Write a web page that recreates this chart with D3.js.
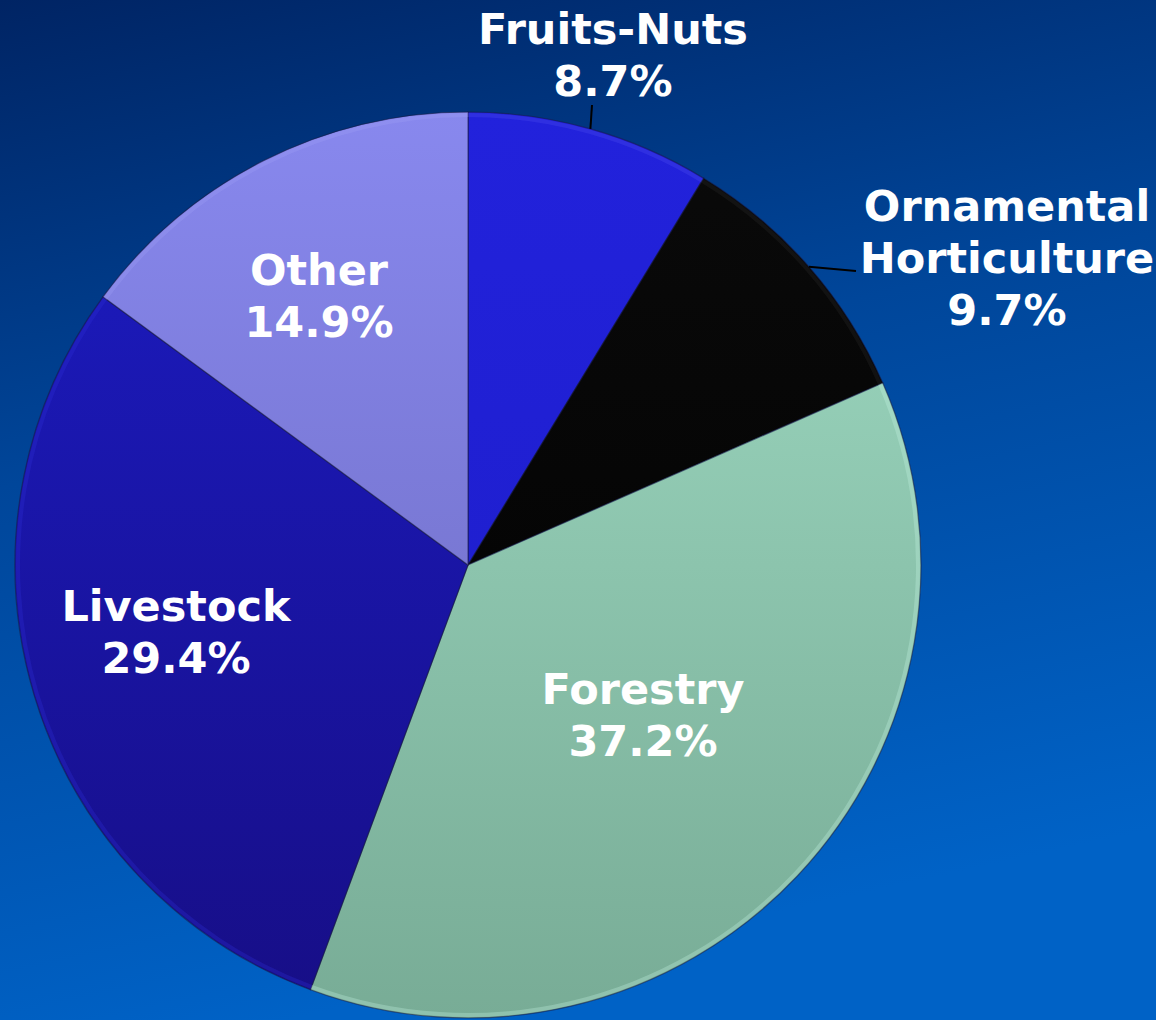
<!DOCTYPE html>
<html><head><meta charset="utf-8">
<script src="https://cdn.jsdelivr.net/npm/d3@7"></script>
<style>html,body{margin:0;padding:0;background:#003080;}svg{display:block;}</style>
</head><body>
<svg id="chart" width="1156" height="1020"></svg>
<script>
const categories = ["Fruits-Nuts", "Ornamental Horticulture", "Forestry", "Livestock", "Other"];
const values = [8.7, 9.7, 37.2, 29.4, 14.9];
const labelLines = [["Fruits-Nuts"], ["Ornamental", "Horticulture"], ["Forestry"], ["Livestock"], ["Other"]];

const W = 1156, H = 1020, cx = 468, cy = 565, R = 453;
const topColors = ["#2222dc", "#0a0a0a", "#a0dcc4", "#1c1cc4", "#8888ee"];
const botColors = ["#1c1cc4", "#000000", "#78ac96", "#170e86", "#6a68ba"];
const rimColors = ["#5050f0", "#2a2a2a", "#c8f4e4", "#3030d8", "#a0a0f4"];
// label layout (first-line baseline, centre x); outside labels also get a leader end point
const labelLayout = [
  {x: 613, y: 44, lead: [592, 105]},
  {x: 1007, y: 221, lead: [856, 271]},
  {x: 643, y: 704},
  {x: 176, y: 621},
  {x: 319, y: 285}
];

const svg = d3.select("#chart");
const defs = svg.append("defs");
const bg = defs.append("linearGradient").attr("id", "bg").attr("x1", 0).attr("y1", 0).attr("x2", 0.25).attr("y2", 1);
bg.append("stop").attr("offset", 0).attr("stop-color", "#002464");
bg.append("stop").attr("offset", 0.45).attr("stop-color", "#00469a");
bg.append("stop").attr("offset", 1).attr("stop-color", "#0062c6");
svg.append("rect").attr("width", W).attr("height", H).attr("fill", "url(#bg)");

categories.forEach((c, i) => {
  const g = defs.append("linearGradient").attr("id", "g" + i)
    .attr("gradientUnits", "userSpaceOnUse").attr("x1", 0).attr("y1", -R).attr("x2", 0).attr("y2", R);
  g.append("stop").attr("offset", 0).attr("stop-color", topColors[i]);
  g.append("stop").attr("offset", 1).attr("stop-color", botColors[i]);
});

const pie = d3.pie().sort(null).value(d => d)(values);
const arc = d3.arc().innerRadius(0).outerRadius(R);
const rimArc = d3.arc().innerRadius(R - 5).outerRadius(R - 1);
const root = svg.append("g").attr("transform", `translate(${cx},${cy})`);

root.selectAll("path.slice").data(pie).join("path").attr("class", "slice")
  .attr("d", arc).attr("fill", (d, i) => `url(#g${i})`)
  .attr("stroke", "#1a1a40").attr("stroke-opacity", 0.55).attr("stroke-width", 1.2);
root.selectAll("path.rim").data(pie).join("path").attr("class", "rim")
  .attr("d", rimArc).attr("fill", (d, i) => rimColors[i]).attr("opacity", 0.3);

// leader lines
pie.forEach((d, i) => {
  const L = labelLayout[i];
  if (!L.lead) return;
  const a = (d.startAngle + d.endAngle) / 2;
  const x0 = cx + R * Math.sin(a), y0 = cy - R * Math.cos(a);
  svg.append("line").attr("x1", x0).attr("y1", y0).attr("x2", L.lead[0]).attr("y2", L.lead[1])
    .attr("stroke", "#000").attr("stroke-width", 2);
});

const lh = 52;
pie.forEach((d, i) => {
  const L = labelLayout[i];
  const lines = labelLines[i].concat([d3.format(".1f")(values[i]) + "%"]);
  const t = svg.append("text").attr("text-anchor", "middle")
    .attr("font-family", "DejaVu Sans, Verdana, sans-serif").attr("font-weight", "bold")
    .attr("font-size", 43).attr("fill", "#ffffff");
  lines.forEach((s, k) => t.append("tspan").attr("x", L.x).attr("y", L.y + k * lh).text(s));
});
</script>
</body></html>
